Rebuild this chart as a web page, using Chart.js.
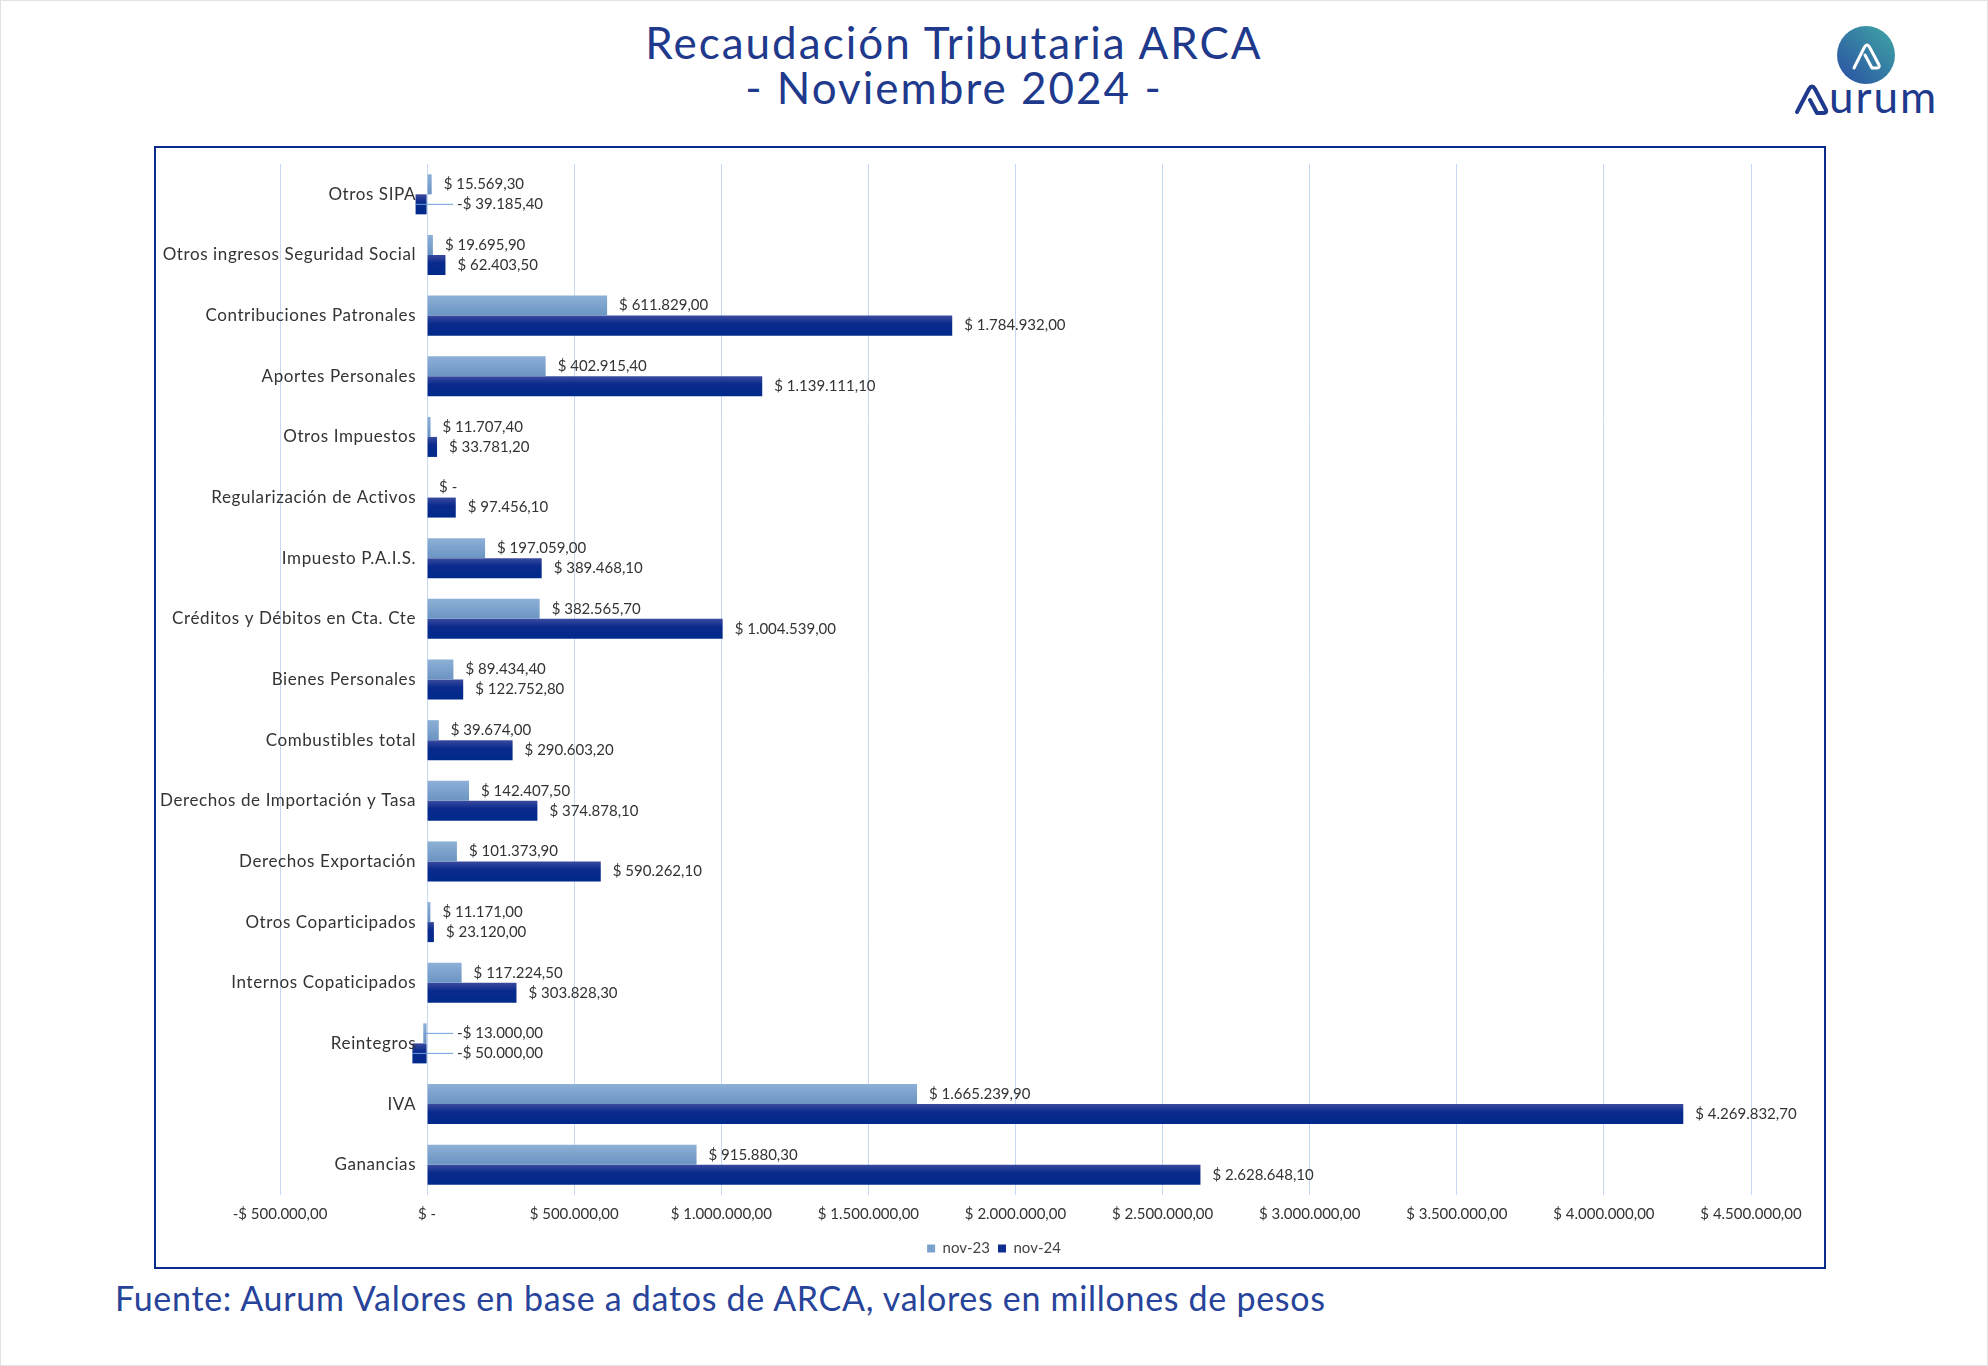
<!DOCTYPE html>
<html>
<head>
<meta charset="utf-8">
<script src="https://cdn.jsdelivr.net/npm/chart.js@4.4.1/dist/chart.umd.min.js"></script>
<style>
  body { margin: 0; background: #fff; width: 1988px; height: 1366px; position: relative; overflow: hidden; font-family: Lato, "Noto Sans", sans-serif; }
  #page { position: absolute; left: 0; top: 0; width: 1986px; height: 1364px; border: 1px solid #e2e2e2; }
  #title { position: absolute; left: 0; top: 20px; width: 1908px; text-align: center; color: #1f3a8c; font-size: 44px; line-height: 45px; letter-spacing: 2px; }
  #frame { position: absolute; left: 154px; top: 146px; width: 1668px; height: 1119px; border: 2px solid #0c2b8a; }
  #box { position: absolute; left: 0; top: 0; width: 1668px; height: 1119px; }
  #fuente { position: absolute; left: 115px; top: 1277px; color: #27449a; font-size: 34px; letter-spacing: 0.7px; }
  #logo { position: absolute; left: 1792px; top: 20px; }
</style>
</head>
<body>
<div id="page"></div>
<div id="title">Recaudación Tributaria ARCA<br>- Noviembre 2024 -</div>
<svg id="logo" width="170" height="105" viewBox="0 0 170 105">
  <defs>
    <linearGradient id="lg" x1="0" y1="1" x2="1" y2="0">
      <stop offset="0" stop-color="#2a4ea3"/>
      <stop offset="1" stop-color="#3fa7a4"/>
    </linearGradient>
  </defs>
  <circle cx="74" cy="35" r="29" fill="url(#lg)"/>
  <path d="M62 48 L72 28 Q75 22 78 28 L87 45 Q88 48 85 48 L80 48 L73 35" fill="none" stroke="#fff" stroke-width="3" stroke-linejoin="round" stroke-linecap="round"/>
  <path d="M5 92 L17 69 Q20 64 23 69 L34 90 Q35 93 31 93 L25 93 L18 80" fill="none" stroke="#1f3a8c" stroke-width="4" stroke-linejoin="round" stroke-linecap="round"/>
  <text x="37" y="93" fill="#1f3a8c" font-size="44" font-family="Lato, sans-serif" letter-spacing="2">urum</text>
</svg>
<div id="frame"><div id="box"><canvas id="barChart"></canvas></div></div>
<div id="fuente">Fuente: Aurum Valores en base a datos de ARCA, valores en millones de pesos</div>

<script>
// categorias y valores
let categorias = ['Otros SIPA', 'Otros ingresos Seguridad Social', 'Contribuciones Patronales', 'Aportes Personales',
  'Otros Impuestos', 'Regularización de Activos', 'Impuesto P.A.I.S.', 'Créditos y Débitos en Cta. Cte',
  'Bienes Personales', 'Combustibles total', 'Derechos de Importación y Tasa', 'Derechos Exportación',
  'Otros Coparticipados', 'Internos Copaticipados', 'Reintegros', 'IVA', 'Ganancias'];
let nov23 = [15569.30, 19695.90, 611829.00, 402915.40, 11707.40, 0, 197059.00, 382565.70,
  89434.40, 39674.00, 142407.50, 101373.90, 11171.00, 117224.50, -13000.00, 1665239.90, 915880.30];
let nov24 = [-39185.40, 62403.50, 1784932.00, 1139111.10, 33781.20, 97456.10, 389468.10, 1004539.00,
  122752.80, 290603.20, 374878.10, 590262.10, 23120.00, 303828.30, -50000.00, 4269832.70, 2628648.10];
let ejeMin = -500000;
let ejeMax = 4500000;
let paso = 500000;

// formato de pesos
function pesos(v) {
  if (v === 0) return '$ -';
  let partes = Math.abs(v).toFixed(2).split('.');
  let entero = partes[0].replace(/\B(?=(\d{3})+(?!\d))/g, '.');
  return (v < 0 ? '-' : '') + '$ ' + entero + ',' + partes[1];
}

// degradado de cada barra
let degradados = [
  [[0, '#8db0d6'], [1, '#6b94c3']],
  [[0, '#3a4b9f'], [0.4, '#0a2a8c'], [1, '#002a8a']]
];
let degradado = {
  id: 'degradado',
  beforeDatasetsDraw(chart) {
    let c = chart.ctx;
    chart.data.datasets.forEach(function (ds, d) {
      chart.getDatasetMeta(d).data.forEach(function (bar) {
        let g = c.createLinearGradient(0, bar.y - bar.height / 2, 0, bar.y + bar.height / 2);
        degradados[d].forEach(function (s) { g.addColorStop(s[0], s[1]); });
        bar.options = Object.assign({}, bar.options, { backgroundColor: g });
      });
    });
  }
};

// etiquetas de categorias y de valores
let etiquetas = {
  id: 'etiquetas',
  afterDatasetsDraw(chart) {
    let c = chart.ctx;
    let x = chart.scales.x;
    let y = chart.scales.y;
    let cero = x.getPixelForValue(0);
    c.save();
    c.font = '17px Lato, "Noto Sans", sans-serif';
    c.letterSpacing = '0.6px';
    c.fillStyle = '#333';
    c.textAlign = 'right';
    c.textBaseline = 'middle';
    categorias.forEach(function (cat, i) {
      c.fillText(cat, cero - 11, y.getPixelForValue(i));
    });
    c.font = '15px Lato, "Noto Sans", sans-serif';
    c.letterSpacing = '0px';
    c.textAlign = 'left';
    chart.data.datasets.forEach(function (ds, d) {
      let meta = chart.getDatasetMeta(d);
      meta.data.forEach(function (bar, i) {
        let v = ds.data[i];
        let tx;
        if (v > 0) {
          tx = bar.x + 12;
        } else if (v === 0) {
          tx = cero + 12;
        } else {
          tx = cero + 30;
          c.strokeStyle = '#6f9fe0';
          c.lineWidth = 1;
          c.beginPath();
          c.moveTo(bar.x, bar.y);
          c.lineTo(tx - 4, bar.y);
          c.stroke();
        }
        c.fillStyle = '#333';
        c.fillText(pesos(v), tx, bar.y);
      });
    });
    c.restore();
  }
};

let barCtx = document.getElementById('barChart');
let barChart = new Chart(barCtx, {
  type: 'bar',
  data: {
    labels: categorias,
    datasets: [{
      label: 'nov-23',
      data: nov23,
      backgroundColor: '#7ba2cf',
      barPercentage: 1.0,
      categoryPercentage: 0.66
    }, {
      label: 'nov-24',
      data: nov24,
      backgroundColor: '#0f2d8e',
      barPercentage: 1.0,
      categoryPercentage: 0.66
    }]
  },
  options: {
    indexAxis: 'y',
    responsive: true,
    maintainAspectRatio: false,
    animation: false,
    layout: { padding: { left: 81, right: 73, top: 16, bottom: 1 } },
    scales: {
      x: {
        min: ejeMin,
        max: ejeMax,
        ticks: {
          stepSize: paso,
          callback: function (v) { return pesos(v); },
          color: '#333',
          font: { size: 15, family: 'Lato, "Noto Sans", sans-serif' },
          padding: 10
        },
        grid: { color: '#c6d9f3', drawTicks: false },
        border: { display: false }
      },
      y: {
        ticks: { display: false },
        grid: { display: false },
        border: { display: false },
        afterFit: function (scale) { scale.width = 43; }
      }
    },
    plugins: {
      legend: {
        position: 'bottom',
        labels: {
          boxWidth: 8,
          boxHeight: 8,
          padding: 8,
          color: '#444',
          font: { size: 15, family: 'Lato, "Noto Sans", sans-serif' }
        }
      },
      tooltip: { enabled: false }
    }
  },
  plugins: [degradado, etiquetas]
});
</script>
</body>
</html>
